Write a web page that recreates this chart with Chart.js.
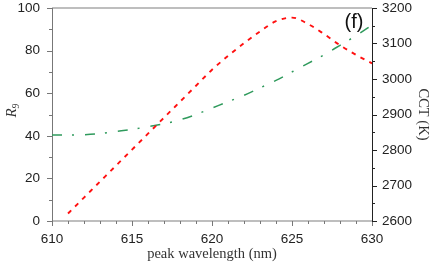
<!DOCTYPE html>
<html><head><meta charset="utf-8">
<script src="https://cdn.jsdelivr.net/npm/chart.js@4/dist/chart.umd.min.js"></script>
<style>html,body{margin:0;padding:0;background:#fff}#wrap{width:432px;height:263px}</style>
</head><body><div id="wrap"><canvas id="c" width="432" height="263"></canvas></div>
<script>
// ---- data ----
const wavelengths = [610,611,612,613,614,615,616,617,618,619,620,621,622,623,624,625,626,627,628,629,630];
const r9Values    = [null,3.5,11,18.5,26,33.5,41,48.5,56,63.5,71,77.5,83.5,89,93.8,95.5,92.5,87.8,82.5,78,74];
const cctValues   = [2842,2842,2843,2846,2852,2858,2866,2874,2885,2900,2918,2936,2954,2975,2996,3020,3044,3068,3095,3122,3152];
const xTickValues   = [610,615,620,625,630];
const r9TickValues  = [0,20,40,60,80,100];
const cctTickValues = [2600,2700,2800,2900,3000,3100,3200];
const xTitle = 'peak wavelength (nm)';
const rightTitle = 'CCT (K)';
const panelLabel = '(f)';

const redPts = [];
const greenPts = [];
wavelengths.forEach((w,i)=>{
  if (r9Values[i] !== null) redPts.push({x:w, y:r9Values[i]});
  greenPts.push({x:w, y:cctValues[i]});
});

const sans = "'Liberation Sans', Arial, sans-serif";
const serif = "'Liberation Serif', 'Times New Roman', serif";
const plain = v => String(v);

const framePlugin = {
  id: 'frame',
  beforeDatasetsDraw(chart) {
    const {ctx, chartArea:a, scales} = chart;
    ctx.save();
    ctx.lineWidth = 1.6;
    ctx.strokeStyle = '#a8a8a8';
    ctx.beginPath(); ctx.moveTo(a.left, a.top); ctx.lineTo(a.right, a.top); ctx.stroke();
    ctx.beginPath(); ctx.moveTo(a.left, a.bottom); ctx.lineTo(a.right, a.bottom); ctx.stroke();
    ctx.lineWidth = 1;
    ctx.strokeStyle = '#777';
    ctx.beginPath(); ctx.moveTo(a.left+0.5, a.top); ctx.lineTo(a.left+0.5, a.bottom); ctx.stroke();
    ctx.strokeStyle = '#222';
    ctx.beginPath(); ctx.moveTo(a.right+0.5, a.top); ctx.lineTo(a.right+0.5, a.bottom); ctx.stroke();
    ctx.strokeStyle = '#777';
    const xs = scales.x;
    for (let v = xs.min; v <= xs.max; v += 1) {
      const p = Math.round(xs.getPixelForValue(v)) + 0.5;
      const len = (v % 5 === 0) ? 5 : 3;
      ctx.beginPath(); ctx.moveTo(p, a.bottom); ctx.lineTo(p, a.bottom + len); ctx.stroke();
    }
    const yl = scales.y;
    for (let v = yl.min; v <= yl.max; v += 10) {
      const p = Math.round(yl.getPixelForValue(v)) + 0.5;
      const len = (v % 20 === 0) ? 5 : 3;
      ctx.beginPath(); ctx.moveTo(a.left - len, p); ctx.lineTo(a.left, p); ctx.stroke();
    }
    ctx.strokeStyle = '#222';
    const yr = scales.y1;
    for (let v = yr.min; v <= yr.max; v += 50) {
      const p = Math.round(yr.getPixelForValue(v)) + 0.5;
      const len = (v % 100 === 0) ? 5 : 3;
      ctx.beginPath(); ctx.moveTo(a.right, p); ctx.lineTo(a.right + len, p); ctx.stroke();
    }
    ctx.restore();
  },
  afterDraw(chart) {
    const {ctx, chartArea:a} = chart;
    ctx.save();
    ctx.translate(12, (a.top + a.bottom) / 2 - 4);
    ctx.rotate(-Math.PI/2);
    ctx.fillStyle = '#333';
    ctx.textBaseline = 'middle';
    ctx.font = 'italic 15px ' + serif;
    const wR = ctx.measureText('R').width;
    ctx.textAlign = 'left';
    ctx.fillText('R', -(wR + 5)/2, 0);
    ctx.font = 'italic 9.5px ' + serif;
    ctx.fillText('9', -(wR + 5)/2 + wR, 4);
    ctx.restore();
    ctx.save();
    ctx.font = '20px ' + sans;
    ctx.fillStyle = '#111';
    ctx.textAlign = 'center';
    ctx.textBaseline = 'middle';
    ctx.fillText(panelLabel, 354, 22);
    ctx.restore();
  }
};

new Chart(document.getElementById('c'), {
  type: 'line',
  data: {
    datasets: [
      {
        label: 'R9', data: redPts, yAxisID: 'y',
        borderColor: '#ff1010', borderWidth: 1.9, borderDash: [4.5,5.5],
        pointRadius: 0, cubicInterpolationMode: 'monotone', fill: false
      },
      {
        label: 'CCT', data: greenPts, yAxisID: 'y1',
        borderColor: '#2f9a5c', borderWidth: 1.5, borderDash: [10,10,2,11],
        pointRadius: 0, cubicInterpolationMode: 'monotone', fill: false
      }
    ]
  },
  options: {
    responsive: false,
    animation: false,
    events: [],
    layout: { padding: { top: 8, left: 0, right: 0, bottom: 0 } },
    plugins: { legend: { display: false }, tooltip: { enabled: false } },
    scales: {
      x: {
        type: 'linear', min: 610, max: 630,
        afterBuildTicks: s => { s.ticks = xTickValues.map(v => ({value: v})); },
        afterFit: s => { s.height = 42; s.paddingLeft = 0; s.paddingRight = 0; },
        grid: { display: false, drawTicks: false },
        border: { display: false },
        ticks: { font: { family: sans, size: 13.5 }, color: '#222', padding: 10, maxRotation: 0, callback: plain },
        title: { display: true, text: xTitle, font: { family: serif, size: 14.5 }, color: '#333', padding: { top: 0, bottom: 0 } }
      },
      y: {
        type: 'linear', position: 'left', min: 0, max: 100,
        afterBuildTicks: s => { s.ticks = r9TickValues.map(v => ({value: v})); },
        afterFit: s => { s.width = 52; s.paddingTop = 0; s.paddingBottom = 0; },
        grid: { display: false, drawTicks: false },
        border: { display: false },
        ticks: { font: { family: sans, size: 13.5 }, color: '#222', padding: 12, callback: plain }
      },
      y1: {
        type: 'linear', position: 'right', min: 2600, max: 3200,
        afterBuildTicks: s => { s.ticks = cctTickValues.map(v => ({value: v})); },
        afterFit: s => { s.width = 60; s.paddingTop = 0; s.paddingBottom = 0; },
        grid: { display: false, drawTicks: false },
        border: { display: false },
        ticks: { font: { family: sans, size: 13.5 }, color: '#222', padding: 10, callback: plain },
        title: { display: true, text: rightTitle, font: { family: serif, size: 14.5 }, color: '#333', padding: { top: 0, bottom: 4 } }
      }
    }
  },
  plugins: [framePlugin]
});
</script>
</body></html>
